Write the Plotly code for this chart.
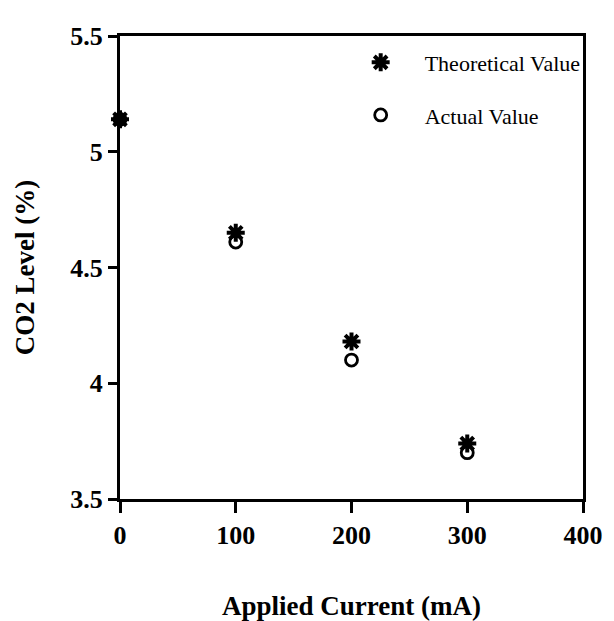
import plotly.graph_objects as go

current = [0, 100, 200, 300]
theoretical = [5.14, 4.65, 4.18, 3.74]
actual = [5.14, 4.61, 4.10, 3.70]
x_ticks = [0, 100, 200, 300, 400]
y_ticks = [3.5, 4, 4.5, 5, 5.5]
y_tick_labels = ["3.5", "4", "4.5", "5", "5.5"]

fig = go.Figure()
fig.add_trace(go.Scatter(
    x=current, y=theoretical, mode="markers", name="Theoretical Value",
    legendgroup="t",
    marker=dict(symbol="asterisk-open", size=15, color="black",
                line=dict(color="black", width=4)),
    cliponaxis=False))
fig.add_trace(go.Scatter(
    x=current, y=actual, mode="markers", name="Actual Value",
    legendgroup="a",
    marker=dict(symbol="circle-open", size=12, color="black",
                line=dict(color="black", width=2.8)),
    cliponaxis=False))

tickfont = dict(family="Liberation Serif", size=26, color="black")
fig.update_layout(
    width=614, height=621,
    margin=dict(l=112, r=39, t=28, b=130),
    paper_bgcolor="white", plot_bgcolor="white",
    showlegend=True,
    legend=dict(x=0.468, y=0.988, xanchor="left", yanchor="top",
                bgcolor="rgba(0,0,0,0)", itemwidth=78,
                traceorder="grouped", tracegroupgap=21,
                font=dict(family="Liberation Serif", size=22, color="black")),
    xaxis=dict(range=[0, 400], tickvals=x_ticks, ticks="outside", ticklen=11,
               tickwidth=3, tickcolor="black", showline=True, linewidth=3,
               linecolor="black", mirror=True, showgrid=False, zeroline=False,
               tickfont=tickfont,
               title=dict(text="<b>Applied Current (mA)</b>", standoff=47,
                          font=dict(family="Liberation Serif", size=27, color="black"))),
    yaxis=dict(range=[3.5, 5.5], tickvals=y_ticks, ticktext=["<b>%s</b>" % t for t in y_tick_labels],
               ticks="outside", ticklen=9,
               tickwidth=3, tickcolor="black", showline=True, linewidth=3,
               linecolor="black", mirror=True, showgrid=False, zeroline=False,
               tickfont=tickfont,
               title=dict(text="<b>CO2 Level (%)</b>", standoff=28,
                          font=dict(family="Liberation Serif", size=27, color="black"))),
)
fig.update_xaxes(ticktext=["<b>%d</b>" % v for v in x_ticks])
fig.write_html("out.html")
